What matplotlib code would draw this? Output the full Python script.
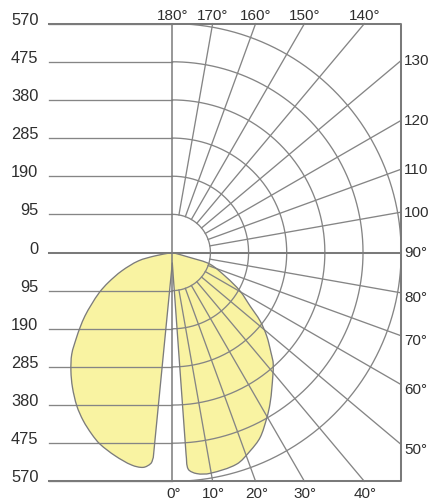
import numpy as np
import matplotlib
matplotlib.use("Agg")
import matplotlib.pyplot as plt
from matplotlib import font_manager
from matplotlib.path import Path
from matplotlib.patches import PathPatch

# ---------------- data ----------------
rings = [95, 190, 285, 380, 475, 570]
ring_labels = ["95", "190", "285", "380", "475", "570"]
lower_angles = [0, 10, 20, 30, 40, 50, 60, 70, 80]
upper_angles = [100, 110, 120, 130, 140, 150, 160, 170, 180]

# C180 half-plane (drawn to the left), gamma from 90 down to 0
gamma_left = [90, 78.9, 76.1, 70.0, 64.9, 61.3, 57.3, 54.0, 50.9, 48.4, 44.7,
              40.6, 36.5, 31.9, 27.9, 23.9, 20.7, 15.7, 10.8, 7.7, 5.8, 5.3, 0]
intensity_left = [0, 44, 87, 134, 176, 207, 239, 269, 296, 319, 356,
                  388, 418, 450, 474, 495, 510, 526, 539, 540, 528, 513, 26]

# C0 half-plane (drawn to the right), gamma from 0 up to 90
gamma_right = [0, 3.9, 4.2, 6.3, 9.7, 16.9, 21.4, 25.4, 29.8, 32.8, 36.4,
               42.1, 44.6, 48.5, 52.1, 55.5, 60.4, 65.3, 72.8, 74.2, 90]
intensity_right = [26, 504, 541, 554, 558, 551, 531, 510, 474, 449, 418,
                   375, 350, 314, 277, 235, 194, 149, 98, 46, 0]

# ---------------- style ----------------
names = {f.name for f in font_manager.fontManager.ttflist}
main_font = "Liberation Sans" if "Liberation Sans" in names else "DejaVu Sans"
narrow_font = "Liberation Sans Narrow" if "Liberation Sans Narrow" in names else main_font

grid_col = "#858585"
box_col = "#7a7a7a"
text_col = "#2e2e2e"
fill_col = "#f9f3a2"
curve_col = "#7c7c7c"

W, H = 428, 502
cx, cy = 172.3, 253.5
s = 0.4015  # px per unit
R = max(rings)
left_end = (49 - cx) / s

fig = plt.figure(figsize=(W / 100, H / 100), dpi=100)
ax = fig.add_axes([0, 0, 1, 1])
ax.set_xlim(-cx / s, (W - cx) / s)
ax.set_ylim((cy - H) / s, cy / s)
ax.axis("off")


def smooth_chain(pts):
    """Bezier segments (chord-length Catmull-Rom) through the given points."""
    pts = np.asarray(pts, float)
    n = len(pts)
    d = np.linalg.norm(np.diff(pts, axis=0), axis=1)
    m = np.zeros_like(pts)
    for i in range(n):
        if i == 0:
            m[i] = (pts[1] - pts[0]) / d[0]
        elif i == n - 1:
            m[i] = (pts[-1] - pts[-2]) / d[-1]
        else:
            m[i] = (pts[i + 1] - pts[i - 1]) / (d[i - 1] + d[i])
    verts, codes = [], []
    for i in range(n - 1):
        c1 = pts[i] + m[i] * d[i] / 3
        c2 = pts[i + 1] - m[i + 1] * d[i] / 3
        verts += [c1, c2, pts[i + 1]]
        codes += [Path.CURVE4] * 3
    return verts, codes


# ---------------- light distribution ----------------
gl = np.radians(gamma_left)
gr = np.radians(gamma_right)
il = np.array(intensity_left, float)
ir = np.array(intensity_right, float)
left_pts = np.column_stack([-il * np.sin(gl), -il * np.cos(gl)])
right_pts = np.column_stack([ir * np.sin(gr), -ir * np.cos(gr)])

verts = [left_pts[0]]
codes = [Path.MOVETO]
v, c = smooth_chain(left_pts[:-1])
verts += v; codes += c
verts += [left_pts[-1]]; codes += [Path.LINETO]        # down to the 0 deg value
verts += [right_pts[1]]; codes += [Path.LINETO]
v, c = smooth_chain(right_pts[1:])
verts += v; codes += c
verts += [left_pts[0]]; codes += [Path.CLOSEPOLY]
path = Path(verts, codes)
ax.add_patch(PathPatch(path, facecolor=fill_col, edgecolor="none", zorder=1))
ax.add_patch(PathPatch(path, facecolor="none", edgecolor=curve_col, lw=0.95,
                       zorder=5, joinstyle="round"))

# ---------------- grid ----------------
for r in rings:
    for sgn in (1, -1):
        ax.plot([left_end, 0], [sgn * r, sgn * r], color=grid_col, lw=0.95, zorder=3)
t = np.linspace(-np.pi / 2, np.pi / 2, 400)
for r in rings:
    ax.plot(r * np.cos(t), r * np.sin(t), color=grid_col, lw=0.95, zorder=3)
for g in lower_angles[1:] + upper_angles[:-1]:
    a = np.radians(g)
    dx, dy = np.sin(a), -np.cos(a)
    tend = min(R / abs(dx), R / abs(dy) if abs(dy) > 1e-9 else np.inf)
    ax.plot([rings[0] * dx, tend * dx], [rings[0] * dy, tend * dy],
            color=grid_col, lw=0.95, zorder=3)
ax.plot([left_end, R, R, left_end], [R, R, -R, -R], color=box_col, lw=1.45, zorder=4)
ax.plot([left_end, R], [0, 0], color=box_col, lw=1.45, zorder=4)
ax.plot([0, 0], [-R, R], color=box_col, lw=1.1, zorder=4)

# ---------------- labels ----------------
lab_x = (38.5 - cx) / s
ax.text(lab_x, 0 + 11, "0", ha="right", va="center", fontsize=11.8,
        family=main_font, color=text_col)
for r, lab in zip(rings, ring_labels):
    for sgn in (1, -1):
        ax.text(lab_x, sgn * r + 11, lab, ha="right", va="center", fontsize=11.8,
                family=main_font, color=text_col)

afs = 11
for g in upper_angles:
    a = np.radians(180 - g)
    if g >= 140:
        ax.text(R * np.tan(a), R + 5 / s, f"{g}°", ha="center", va="baseline",
                fontsize=afs, family=narrow_font, color=text_col)
    else:
        ax.text((404 - cx) / s, R * np.tan(np.radians(g - 90)), f"{g}°",
                ha="left", va="center", fontsize=afs, family=narrow_font, color=text_col)
ax.text((404 - cx) / s, 0, "90°", ha="left", va="center", fontsize=afs,
        family=narrow_font, color=text_col)
for g in lower_angles:
    a = np.radians(g)
    if g <= 40:
        ax.text(R * np.tan(a) + 1 / s, -R - 4.5 / s, f"{g}°", ha="center", va="top",
                fontsize=afs, family=narrow_font, color=text_col)
    else:
        ax.text((404 - cx) / s, -R * np.tan(np.radians(90 - g)) - 10, f"{g}°",
                ha="left", va="center", fontsize=afs, family=narrow_font, color=text_col)

fig.savefig("out.png", dpi=100)
